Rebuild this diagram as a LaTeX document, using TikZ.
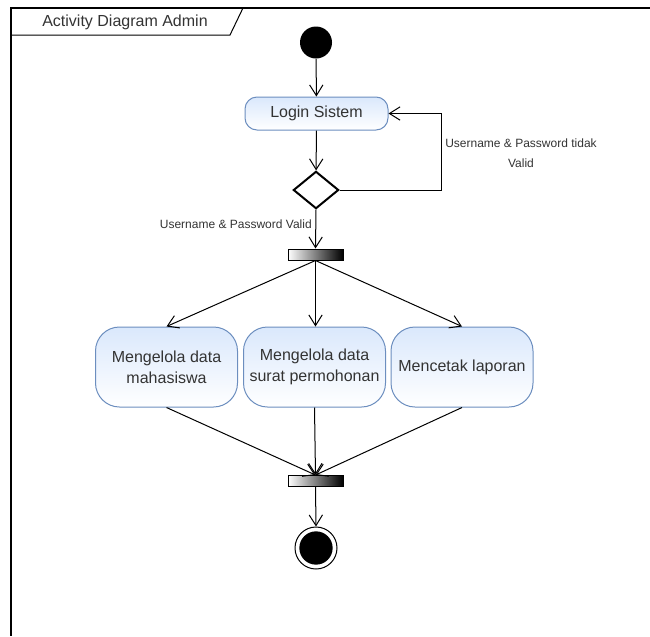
\documentclass[tikz,border=0pt]{standalone}
\usepackage{fontspec}
\setmainfont{Liberation Sans}
\usetikzlibrary{arrows.meta,shapes.geometric}
\definecolor{actfill}{HTML}{DAE8FC}
\definecolor{actdraw}{HTML}{6C8EBF}
\definecolor{txt}{HTML}{333333}
\begin{document}
\begin{tikzpicture}[x=0.75pt,y=-0.75pt,
  flow/.style={draw=black, line width=0.75pt, -{Straight Barb[length=8pt,width=10pt,line width=0.75pt]}},
  action/.style={draw=actdraw, line width=0.75pt, top color=actfill, bottom color=white, rounded corners=18pt, minimum width=106.5pt, minimum height=60pt, align=center, font=\fontsize{12}{15.5}\selectfont, text=txt, inner sep=0pt},
  loginbox/.style={draw=actdraw, line width=0.75pt, top color=actfill, bottom color=white, rounded corners=9pt, minimum width=107.25pt, minimum height=24.75pt, font=\fontsize{12}{15}\selectfont, text=txt, inner sep=0pt},
  bar/.style={draw=black, line width=0.75pt, left color=white, right color=black, minimum width=41.25pt, minimum height=8.25pt, inner sep=0pt},
  lbl/.style={font=\fontsize{9}{15}\selectfont, text=txt, align=center, inner sep=0pt}
]
\useasboundingbox (0,0) rectangle (650,636);
% frame
\draw[line width=1.1pt] (650,8) -- (11,8) -- (11,636);
\draw[line width=0.75pt] (11,35) -- (230,35) -- (243,8);
\node[font=\fontsize{12}{15}\selectfont, text=txt, inner sep=0pt] (title) at (125,22) {Activity Diagram Admin};
% nodes
\node[circle, fill=black, minimum size=24pt, inner sep=0pt] (start) at (316,42.5) {};
\node[loginbox] (login) at (316.5,113.5) {Login Sistem};
\node[diamond, draw=black, line width=1.5pt, fill=white, minimum width=34pt, minimum height=28pt, inner sep=0pt] (dec) at (316,190) {};
\node[bar] (fork) at (315.5,254.5) {};
\node[action] (a1) at (166.5,367) {Mengelola data\\mahasiswa};
\node[action] (a2) at (314.5,367) {Mengelola data\\surat permohonan};
\node[action] (a3) at (462,367) {Mencetak laporan};
\node[bar] (join) at (315.5,481) {};
\node[circle, draw=black, line width=0.75pt, fill=white, minimum size=31.5pt, inner sep=0pt] (endo) at (316,548) {};
\node[circle, fill=black, minimum size=25pt, inner sep=0pt] (endi) at (316,548) {};
% labels
\node[lbl, anchor=east] (lvalid) at (312,224) {Username \& Password Valid};
\node[lbl] (linvalid) at (521,153) {Username \& Password tidak\\Valid};
% connectors
\coordinate (loopc) at (441,190);
\draw[flow] (start) -- (login);
\draw[flow] (login) -- (dec);
\draw[flow] (dec.south) -- (fork.north);
\draw[flow] (dec.east) -- (loopc) |- (login.east);
\draw[flow] (fork.south) -- (a1.north);
\draw[flow] (fork.south) -- (a2.north -| fork.south);
\draw[flow] (fork.south) -- (a3.north);
\draw[flow] (a1.south) -- (join.north);
\draw[flow] (a2.south) -- (join.north);
\draw[flow] (a3.south) -- (join.north);
\draw[flow] (join.south) -- (endo.north);
\end{tikzpicture}
\end{document}
